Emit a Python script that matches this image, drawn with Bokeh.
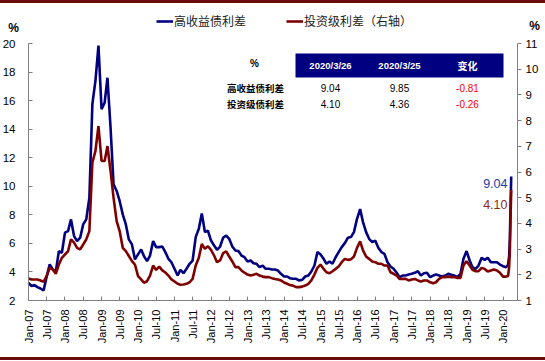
import math
import pandas as pd
from bokeh.plotting import figure
from bokeh.models import (Range1d, LinearAxis, FixedTicker, Legend, LegendItem,
                          Label, Div, ColumnDataSource)
from bokeh.layouts import column
from bokeh.embed import file_html
from bokeh.resources import INLINE
from bokeh.core.properties import value

# ---------------- data ----------------
# monthly observations Jan 2007 .. Feb 2020, then the March 2020 spike
month_start = "2007-01-01"
n_months = 158
spike_dates = ["2020-02-20", "2020-03-02", "2020-03-09", "2020-03-16", "2020-03-23"]

hy_spread = [  # 高收益债利差 (%), left axis
    3.24, 3.01, 3.08, 2.94, 2.84, 2.70, 3.64, 4.53, 4.17, 4.01, 5.46, 5.34,
    6.75, 6.86, 7.68, 6.51, 6.16, 6.40, 7.33, 7.68, 9.20, 15.75, 17.40, 19.85,
    15.40, 15.86, 17.60, 14.10, 10.14, 9.67, 8.97, 8.03, 7.33, 6.28, 5.93, 4.88,
    5.23, 5.58, 5.11, 4.76, 5.15, 6.16, 5.74, 5.74, 5.78, 5.39, 4.92, 4.68,
    4.22, 3.75, 4.15, 3.91, 4.22, 4.57, 4.80, 6.44, 7.02, 8.10, 6.79, 6.90,
    6.20, 5.85, 5.55, 5.78, 6.39, 6.55, 6.32, 5.78, 5.50, 5.46, 5.15, 5.03,
    4.73, 4.80, 4.61, 4.57, 4.33, 4.45, 4.22, 4.22, 4.17, 4.17, 4.10, 3.87,
    3.68, 3.68, 3.56, 3.52, 3.52, 3.40, 3.45, 3.68, 3.75, 4.03, 4.45, 5.39,
    5.22, 4.92, 4.57, 4.73, 4.57, 5.03, 5.39, 5.74, 6.02, 6.39, 6.44, 6.79,
    7.72, 8.40, 7.49, 6.79, 6.32, 6.09, 6.20, 5.69, 5.39, 5.27, 4.68, 4.38,
    4.22, 3.94, 3.63, 3.75, 3.75, 3.82, 3.87, 3.94, 4.05, 3.75, 3.91, 3.94,
    3.63, 3.75, 3.82, 3.75, 3.68, 3.75, 3.87, 3.80, 3.75, 3.63, 3.87, 4.92,
    5.46, 4.80, 4.33, 4.22, 4.45, 4.99, 4.85, 4.99, 4.68, 4.68, 4.68, 4.52,
    4.40, 4.33,
]
hy_spike = [4.50, 5.10, 6.30, 8.60, 10.68]

ig_spread = [  # 投资级利差 (%), right axis
    1.86, 1.82, 1.82, 1.82, 1.78, 1.73, 1.95, 2.27, 2.21, 2.04, 2.40, 2.66,
    2.79, 2.92, 3.38, 3.25, 3.05, 2.99, 3.18, 3.38, 3.70, 6.36, 6.82, 7.79,
    6.43, 6.43, 7.01, 6.04, 5.00, 4.09, 3.70, 3.05, 2.92, 2.73, 2.53, 2.40,
    1.95, 1.82, 1.69, 1.75, 1.97, 2.36, 2.19, 2.32, 2.17, 2.09, 1.97, 1.82,
    1.74, 1.65, 1.61, 1.62, 1.65, 1.71, 1.84, 2.36, 2.66, 3.20, 3.01, 3.11,
    2.97, 2.75, 2.49, 2.56, 2.84, 2.91, 2.71, 2.52, 2.30, 2.30, 2.17, 2.08,
    2.01, 1.97, 2.00, 2.04, 1.97, 1.93, 1.91, 1.91, 1.87, 1.84, 1.82, 1.78,
    1.70, 1.65, 1.60, 1.58, 1.52, 1.52, 1.54, 1.58, 1.65, 1.78, 2.01, 2.27,
    2.40, 2.23, 2.10, 2.06, 2.14, 2.23, 2.32, 2.49, 2.62, 2.58, 2.60, 2.71,
    3.05, 3.30, 2.95, 2.71, 2.62, 2.52, 2.49, 2.43, 2.43, 2.36, 2.36, 2.10,
    2.04, 1.97, 1.84, 1.84, 1.84, 1.78, 1.82, 1.84, 1.78, 1.74, 1.78, 1.78,
    1.71, 1.67, 1.71, 1.84, 1.91, 1.91, 1.93, 1.91, 1.91, 1.88, 1.88, 2.36,
    2.53, 2.36, 2.19, 2.14, 2.14, 2.27, 2.23, 2.13, 2.17, 2.21, 2.17, 2.08,
    1.93, 1.93,
]
ig_spike = [1.95, 2.30, 2.90, 4.20, 5.31]

tick_labels = [f"{m}-{y:02d}" for y in range(7, 21) for m in ("Jan", "Jul")][:-1]
left_ticks = list(range(2, 21, 2))
right_ticks = list(range(1, 12))
left_min, left_max = 2, 20
right_min, right_max = 1, 11

table_dates = ["2020/3/26", "2020/3/25"]
table_rows = ["高收益债利差", "投资级债利差"]
hy_table = [9.04, 9.85]
ig_table = [4.10, 4.36]

# ---------------- layout geometry (page pixels) ----------------
W = 545
RULE_H = 3
H = 354                      # figure occupies page y 3 .. 357
FIG_TOP = RULE_H
AX_L, AX_R = 28, 517         # page x of left / right axis
AX_T, AX_B = 43, 300         # page y of top value / bottom axis
X0_PX = 28                   # page x of 1 Jan 2007
PX_PER_DAY = 18.25 / 182.6
anchor = pd.Timestamp("2007-01-01")


def px_to_date(px):
    return anchor + pd.Timedelta(days=(px - X0_PX) / PX_PER_DAY)


def ms(ts):
    return int(pd.Timestamp(ts).value // 10**6)


def fy(page_y):               # page y -> frame pixel coordinate (upwards)
    return (FIG_TOP + H) - page_y


ku = (AX_B - AX_T) / (left_max - left_min)
kr = (AX_B - AX_T) / (right_max - right_min)
bot_px = FIG_TOP + H
yl = Range1d(left_min - (bot_px - AX_B) / ku, left_max + (AX_T - FIG_TOP) / ku)
yr = Range1d(right_min - (bot_px - AX_B) / kr, right_max + (AX_T - FIG_TOP) / kr)

# ---------------- build ----------------
dates = list(pd.date_range(month_start, periods=n_months, freq="MS")) + \
        list(pd.to_datetime(spike_dates))
src = ColumnDataSource(dict(date=dates, hy=hy_spread + hy_spike, ig=ig_spread + ig_spike))

AXC = "#808080"
BLUE = "#000080"
RED = "#7F0000"
FONT = "Liberation Sans"
CJK = "Noto Sans CJK SC"

p = figure(width=W, height=H, output_backend="svg", toolbar_location=None,
           x_axis_type="datetime",
           x_range=Range1d(px_to_date(0), px_to_date(W)), y_range=yl,
           min_border=0, min_border_left=0, min_border_right=0, min_border_top=0,
           min_border_bottom=0, outline_line_color=None,
           background_fill_color="white", border_fill_color="white")
p.xgrid.visible = False
p.ygrid.visible = False
p.extra_y_ranges = {"right": yr, "fy": Range1d(0, H)}
p.extra_x_ranges = {"fx": Range1d(0, W)}

tick_ms = [ms(pd.to_datetime(t, format="%b-%y")) for t in tick_labels]
xa = p.xaxis[0]
xa.ticker = FixedTicker(ticks=tick_ms)
xa.major_label_overrides = dict(zip(tick_ms, tick_labels))
xa.major_label_orientation = math.pi / 2
xa.major_tick_in = 4
xa.major_tick_out = 0
xa.major_label_standoff = 9
xa.fixed_location = left_min
xa.bounds = (ms(px_to_date(AX_L)), ms(px_to_date(AX_R)))

ya = p.yaxis[0]
ya.ticker = FixedTicker(ticks=left_ticks)
ya.major_tick_in = 4
ya.major_tick_out = 0
ya.major_label_standoff = 13
ya.fixed_location = ms(px_to_date(AX_L))
ya.bounds = (left_min, left_max)

ra = LinearAxis(y_range_name="right", ticker=FixedTicker(ticks=right_ticks))
ra.major_tick_in = 0
ra.major_tick_out = 4
ra.major_label_standoff = 4
ra.fixed_location = ms(px_to_date(AX_R))
ra.bounds = (right_min, right_max)
p.add_layout(ra, "right")

for ax in (xa, ya, ra):
    ax.axis_line_color = AXC
    ax.major_tick_line_color = AXC
    ax.minor_tick_line_color = None
    ax.major_label_text_font = FONT
    ax.major_label_text_font_size = "11.5px"
    ax.major_label_text_color = "black"
xa.major_label_text_font_size = "11px"

r_hy = p.line("date", "hy", source=src, line_color=BLUE, line_width=2.6)
r_ig = p.line("date", "ig", source=src, y_range_name="right", line_color=RED, line_width=2.6)

leg = Legend(items=[LegendItem(label="高收益债利差", renderers=[r_hy]),
                    LegendItem(label="投资级利差（右轴）", renderers=[r_ig])],
             location=(156, fy(23) - 6), orientation="horizontal",
             glyph_width=17, glyph_height=12, label_height=12, label_standoff=1,
             spacing=40, padding=0, margin=0, border_line_color=None,
             background_fill_alpha=0, label_text_font=CJK,
             label_text_font_size="12px", label_text_color="#222222")
p.add_layout(leg)

for lx, ly in ((13, 27), (534, 25)):
    p.add_layout(Label(x=lx, y=fy(ly), x_units="screen", y_units="screen", text="%",
                       text_align="center", text_baseline="middle", text_font=FONT,
                       text_font_style="bold", text_font_size="12px", text_color="black"))

# ---- table (page pixel coordinates) ----
p.quad(left=[295], right=[503], bottom=[fy(77)], top=[fy(53)], x_range_name="fx",
       y_range_name="fy", fill_color=BLUE, line_color=None)
col_x = [330, 399, 467]
hdr_y = fy(64.5)
p.text(x=col_x[:2], y=[hdr_y] * 2, text=table_dates, x_range_name="fx", y_range_name="fy",
       text_color="white", text_font=value(FONT), text_font_style="bold",
       text_font_size="9.5px", text_align="center", text_baseline="middle")
p.text(x=[col_x[2]], y=[hdr_y], text=["变化"], x_range_name="fx", y_range_name="fy",
       text_color="white", text_font=value(CJK), text_font_style="bold",
       text_font_size="10px", text_align="center", text_baseline="middle")
p.text(x=[254], y=[fy(63)], text=["%"], x_range_name="fx", y_range_name="fy",
       text_color="black", text_font=value(FONT), text_font_style="bold",
       text_font_size="10px", text_align="center", text_baseline="middle")
row_y = [fy(87.5), fy(103.5)]
p.text(x=[255, 255], y=row_y, text=table_rows, x_range_name="fx", y_range_name="fy",
       text_color="black", text_font=value(CJK), text_font_style="bold",
       text_font_size="9.5px", text_align="center", text_baseline="middle")
for vals, yy in ((hy_table, row_y[0]), (ig_table, row_y[1])):
    p.text(x=col_x[:2], y=[yy, yy], text=[f"{v:.2f}" for v in vals], x_range_name="fx",
           y_range_name="fy", text_color="black", text_font=value(FONT),
           text_font_size="10px", text_align="center", text_baseline="middle")
    p.text(x=[col_x[2]], y=[yy], text=[f"{vals[0] - vals[1]:.2f}"], x_range_name="fx",
           y_range_name="fy", text_color="#FF0000", text_font=value(FONT),
           text_font_size="10px", text_align="center", text_baseline="middle")

# ---- end-point annotations ----
p.text(x=[507, 507], y=[fy(182.5), fy(203.5)],
       text=[f"{hy_table[0]:.2f}", f"{ig_table[0]:.2f}"], x_range_name="fx", y_range_name="fy",
       text_color=["#233A9F", "#8C2B14"], text_font=value(FONT), text_font_size="12.5px",
       text_align="right", text_baseline="middle")

RULE = "#6E0B0B"
top_rule = Div(text="", width=W, height=RULE_H, margin=(0, 0, 0, 0),
               styles={"background-color": RULE})
bot_rule = Div(text="", width=W, height=RULE_H, margin=(0, 0, 0, 0),
               styles={"background-color": RULE})
layout = column(top_rule, p, bot_rule, spacing=0)

open("out.html", "w").write(file_html(layout, INLINE))
